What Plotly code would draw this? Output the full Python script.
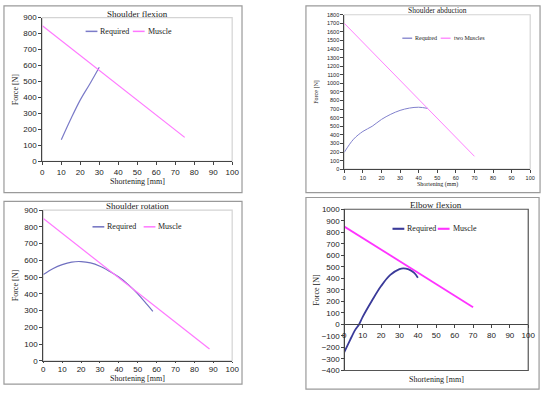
import plotly.graph_objects as go

W, H = 550, 397

# ---------------- data ----------------
sf_req_x = [10, 15, 20, 25, 30]
sf_req_y = [135, 265, 385, 485, 590]
sf_mus_x = [0, 75]
sf_mus_y = [850, 150]

sa_req_x = [0, 5, 10, 15, 20, 25, 30, 35, 40, 45]
sa_req_y = [197, 350, 440, 500, 580, 640, 685, 712, 722, 708]
sa_mus_x = [0, 70]
sa_mus_y = [1700, 150]

sr_req_x = [0, 5, 10, 15, 20, 25, 30, 35, 40, 45, 50, 55, 58]
sr_req_y = [515, 550, 575, 590, 593, 585, 565, 535, 500, 455, 400, 335, 295]
sr_mus_x = [0, 88]
sr_mus_y = [850, 70]

ef_req_x = [0, 3, 6, 8, 10, 15, 20, 25, 30, 32, 35, 38, 40]
ef_req_y = [-240, -140, -45, 0, 65, 205, 333, 430, 480, 487, 478, 448, 405]
ef_mus_x = [0, 70]
ef_mus_y = [850, 150]

panels = [
    dict(title="Shoulder flexion", req=(sf_req_x, sf_req_y), mus=(sf_mus_x, sf_mus_y),
         mus_name="Muscle", yr=[0, 900], dy=100, box=(41, 234, 14, 161), frame=(2, 244, 2, 193),
         tickfs=8, labfs=8, titlefs=9, legend_y=28, legend_x=85, seg=12, off=48, req_c="#7b7bc8", mus_c="#ff77ff",
         lw=1.2, border="#d4d4d4", xlab="Shortening [mm]", ylab="Force [N]", xlab_y=182, ylab_x=14, xticklen=3),
    dict(title="Shoulder abduction", req=(sa_req_x, sa_req_y), mus=(sa_mus_x, sa_mus_y),
         mus_name="two Muscles", yr=[0, 1800], dy=100, box=(348, 537, 11, 169), frame=(309, 547, 2, 193),
         tickfs=5.5, labfs=6, titlefs=7.5, legend_y=35, legend_x=407, seg=10, off=39, req_c="#8080cc", mus_c="#ff80ff",
         lw=1.0, border="#d4d4d4", xlab="Shortening (mm)", ylab="Force [N]", xlab_y=185, ylab_x=320, xticklen=3),
    dict(title="Shoulder rotation", req=(sr_req_x, sr_req_y), mus=(sr_mus_x, sr_mus_y),
         mus_name="Muscle", yr=[0, 900], dy=100, box=(42, 234, 211, 365), frame=(2, 244, 202, 389),
         tickfs=8, labfs=8, titlefs=9, legend_y=228, legend_x=92, seg=12, off=52, req_c="#7070c0", mus_c="#ff77ff",
         lw=1.2, border="#d4d4d4", xlab="Shortening [mm]", ylab="Force [N]", xlab_y=383, ylab_x=14, xticklen=1),
    dict(title="Elbow flexion", req=(ef_req_x, ef_req_y), mus=(ef_mus_x, ef_mus_y),
         mus_name="Muscle", yr=[-400, 1000], dy=100, box=(348, 535, 210, 375), frame=(309, 546, 198, 394),
         tickfs=8, labfs=8, titlefs=9, legend_y=230, legend_x=397, seg=12, off=46, req_c="#3a3a99", mus_c="#ff33ff",
         lw=1.8, border="#555555", xlab="Shortening [mm]", ylab="Force [N]", xlab_y=384, ylab_x=320, xticklen=3),
]

fig = go.Figure()
shapes = []
annotations = []


def px(x):
    return x / W


def py(y):
    return 1 - y / H


serif = "Liberation Serif"
sans = "Liberation Sans"

for i, p in enumerate(panels, start=1):
    sfx = "" if i == 1 else str(i)
    xa, ya = "x" + sfx, "y" + sfx
    x0, x1, y0, y1 = p["box"]
    fig.add_trace(go.Scatter(x=p["req"][0], y=p["req"][1], mode="lines", line=dict(color=p["req_c"], width=p["lw"], shape="spline"),
                             xaxis=xa, yaxis=ya, showlegend=False, hoverinfo="skip"))
    fig.add_trace(go.Scatter(x=p["mus"][0], y=p["mus"][1], mode="lines", line=dict(color=p["mus_c"], width=p["lw"]),
                             xaxis=xa, yaxis=ya, showlegend=False, hoverinfo="skip"))
    axcommon = dict(showgrid=False, zeroline=False, showline=True, linecolor="#444444", linewidth=1,
                    ticks="outside", ticklen=3, tickcolor="#444444",
                    tickfont=dict(family=sans, size=p["tickfs"], color="#222222"))
    xkw = dict(axcommon, domain=[px(x0), px(x1)], range=[0, 100], dtick=10, anchor=ya)
    xkw["ticklen"] = p["xticklen"]
    ymin, ymax = p["yr"]
    if ymin < 0:
        zero_pix = y0 + (ymax / (ymax - ymin)) * (y1 - y0)
        xkw["anchor"] = "free"
        xkw["position"] = py(zero_pix)
    ykw = dict(axcommon, domain=[py(y1), py(y0)], range=p["yr"], dtick=p["dy"], anchor=xa)
    if ymin < 0:
        ykw["anchor"] = "free"
        ykw["position"] = px(x0)
    fig.layout["xaxis" + sfx] = xkw
    fig.layout["yaxis" + sfx] = ykw
    shapes.append(dict(type="rect", xref="paper", yref="paper", x0=px(x0), x1=px(x1), y0=py(y1), y1=py(y0),
                       line=dict(color=p["border"], width=1.2), layer="below"))
    fx0, fx1, fy0, fy1 = p["frame"]
    shapes.append(dict(type="rect", xref="paper", yref="paper", x0=px(fx0), x1=px(fx1), y0=py(fy1), y1=py(fy0),
                       line=dict(color="#9a9a9a", width=1.2)))
    annotations.append(dict(text=p["title"], xref="paper", yref="paper", x=px((x0 + x1) / 2), y=py(y0 - 4),
                            showarrow=False, font=dict(family=serif, size=p["titlefs"], color="#222222"),
                            xanchor="center", yanchor="middle"))
    annotations.append(dict(text=p["xlab"], xref="paper", yref="paper", x=px((x0 + x1) / 2), y=py(p["xlab_y"]),
                            showarrow=False, font=dict(family=serif, size=p["labfs"], color="#222222"),
                            xanchor="center", yanchor="middle"))
    annotations.append(dict(text=p["ylab"], xref="paper", yref="paper", x=px(p["ylab_x"]), y=py((y0 + y1) / 2),
                            showarrow=False, textangle=-90, font=dict(family=serif, size=p["labfs"], color="#222222"),
                            xanchor="center", yanchor="middle"))
    lx, ly, seg, off = p["legend_x"], p["legend_y"], p["seg"], p["off"]
    shapes.append(dict(type="line", xref="paper", yref="paper", x0=px(lx), x1=px(lx + seg), y0=py(ly), y1=py(ly),
                       line=dict(color=p["req_c"], width=p["lw"] + 0.3)))
    annotations.append(dict(text="Required", xref="paper", yref="paper", x=px(lx + seg + 1), y=py(ly),
                            showarrow=False, font=dict(family=serif, size=p["labfs"], color="#222222"),
                            xanchor="left", yanchor="middle"))
    shapes.append(dict(type="line", xref="paper", yref="paper", x0=px(lx + off), x1=px(lx + off + seg), y0=py(ly), y1=py(ly),
                       line=dict(color=p["mus_c"], width=p["lw"] + 0.3)))
    annotations.append(dict(text=p["mus_name"], xref="paper", yref="paper", x=px(lx + off + seg + 1), y=py(ly),
                            showarrow=False, font=dict(family=serif, size=p["labfs"], color="#222222"),
                            xanchor="left", yanchor="middle"))

fig.update_layout(width=W, height=H, margin=dict(l=0, r=0, t=0, b=0), paper_bgcolor="white",
                  plot_bgcolor="white", shapes=shapes, annotations=annotations, showlegend=False)

fig.write_html("out.html", config={"displayModeBar": False},
               post_script="document.body.style.margin='0px';document.body.style.padding='0px';")
